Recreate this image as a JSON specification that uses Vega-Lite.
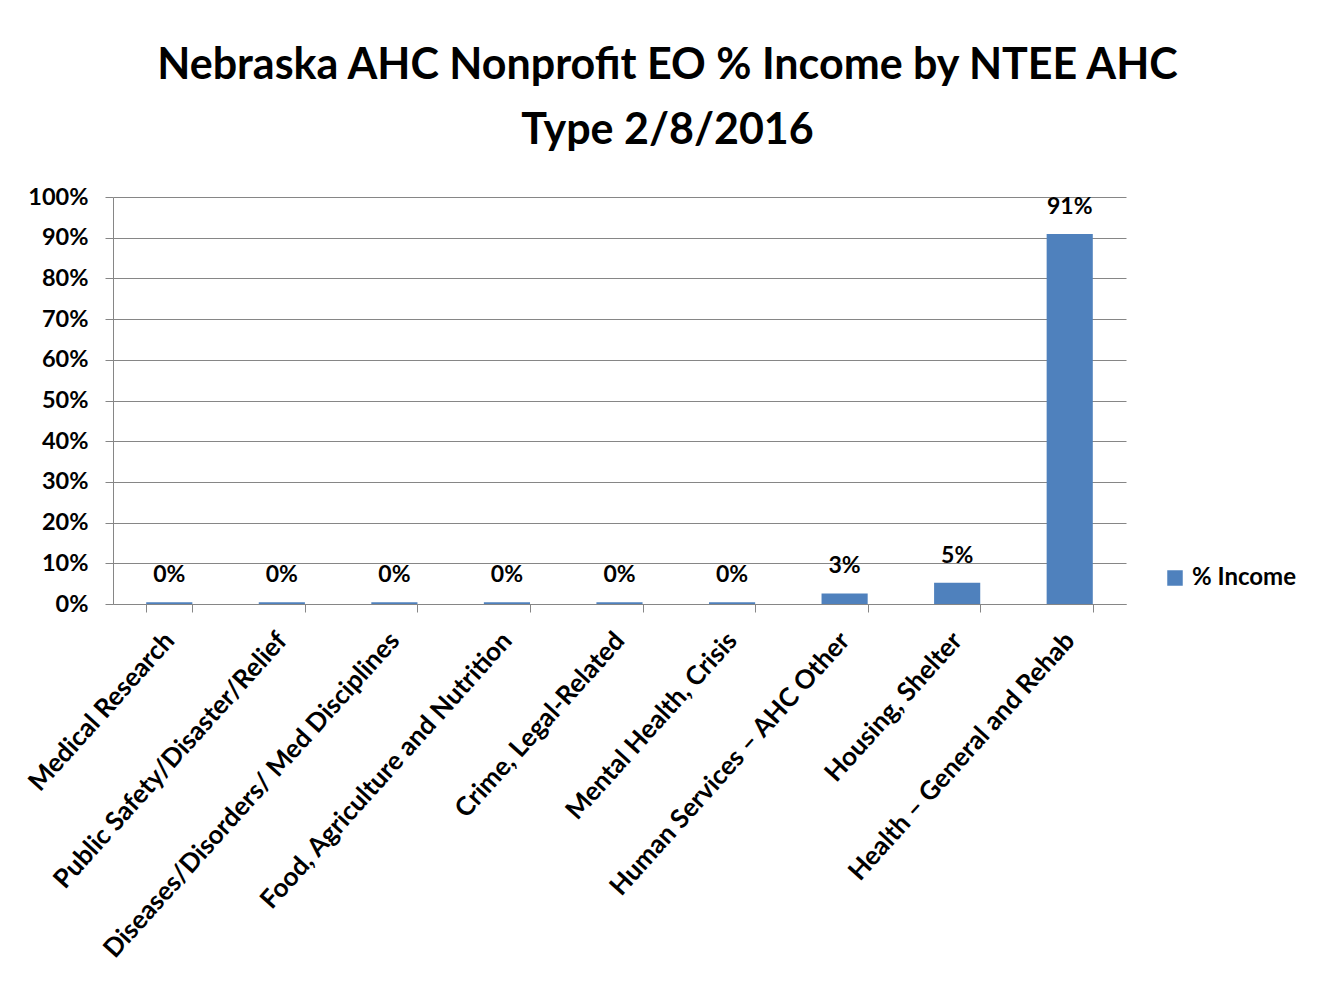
{
  "$schema": "https://vega.github.io/schema/vega-lite/v6.json",
  "width": 1013,
  "height": 407,
  "autosize": {"type": "none"},
  "padding": {"left": 113, "top": 197, "right": 199, "bottom": 388},
  "background": "white",
  "title": {
    "text": ["Nebraska AHC Nonprofit EO % Income by NTEE AHC", "Type 2/8/2016"],
    "font": "Lato",
    "fontSize": 43,
    "fontWeight": "bold",
    "color": "#000000",
    "anchor": "middle",
    "frame": "group",
    "dx": 48,
    "offset": 32,
    "lineHeight": 65
  },
  "data": {
    "values": [
      {"category": "Medical Research", "income": 0.004, "series": "% Income"},
      {"category": "Public Safety/Disaster/Relief", "income": 0.004, "series": "% Income"},
      {"category": "Diseases/Disorders/ Med  Disciplines", "income": 0.004, "series": "% Income"},
      {"category": "Food, Agriculture and Nutrition", "income": 0.004, "series": "% Income"},
      {"category": "Crime, Legal-Related", "income": 0.004, "series": "% Income"},
      {"category": "Mental Health, Crisis", "income": 0.004, "series": "% Income"},
      {"category": "Human Services – AHC  Other", "income": 0.026, "series": "% Income"},
      {"category": "Housing, Shelter", "income": 0.052, "series": "% Income"},
      {"category": "Health – General and Rehab", "income": 0.909, "series": "% Income"}
    ]
  },
  "encoding": {
    "x": {
      "field": "category",
      "type": "nominal",
      "sort": null,
      "scale": {"paddingInner": 0.59, "paddingOuter": 0.295},
      "axis": {
        "title": null,
        "labelAngle": -48,
        "labelFont": "Lato",
        "labelFontSize": 26,
        "labelFontWeight": "bold",
        "labelColor": "#000000",
        "labelPadding": 24,
        "labelLimit": 0,
        "tickBand": "extent",
        "tickSize": 8,
        "tickColor": "#868686",
        "domainColor": "#868686",
        "grid": false
      }
    },
    "y": {
      "field": "income",
      "type": "quantitative",
      "scale": {"domain": [0, 1]},
      "axis": {
        "title": null,
        "format": ".0%",
        "values": [0, 0.1, 0.2, 0.3, 0.4, 0.5, 0.6, 0.7, 0.8, 0.9, 1],
        "labelFont": "Lato",
        "labelFontSize": 23.5,
        "labelFontWeight": "bold",
        "labelColor": "#000000",
        "labelPadding": 17,
        "tickSize": 8,
        "tickColor": "#868686",
        "domainColor": "#868686",
        "gridColor": "#868686",
        "gridWidth": 1
      }
    }
  },
  "layer": [
    {
      "mark": {"type": "bar"},
      "encoding": {
        "color": {
          "field": "series",
          "type": "nominal",
          "scale": {"range": ["#4F81BD"]},
          "legend": {
            "title": null,
            "orient": "none",
            "legendX": 1050,
            "legendY": 369,
            "symbolType": "square",
            "symbolSize": 240,
            "symbolStrokeWidth": 0,
            "labelFont": "Lato",
            "labelFontSize": 24,
            "labelFontWeight": "bold",
            "labelColor": "#000000",
            "labelOffset": 5,
            "padding": 0
          }
        }
      }
    },
    {
      "mark": {
        "type": "text",
        "font": "Lato",
        "fontSize": 23,
        "fontWeight": "bold",
        "color": "#000000",
        "baseline": "alphabetic",
        "dy": -20
      },
      "encoding": {
        "text": {"field": "income", "type": "quantitative", "format": ".0%"}
      }
    }
  ],
  "config": {
    "view": {"stroke": null}
  }
}
